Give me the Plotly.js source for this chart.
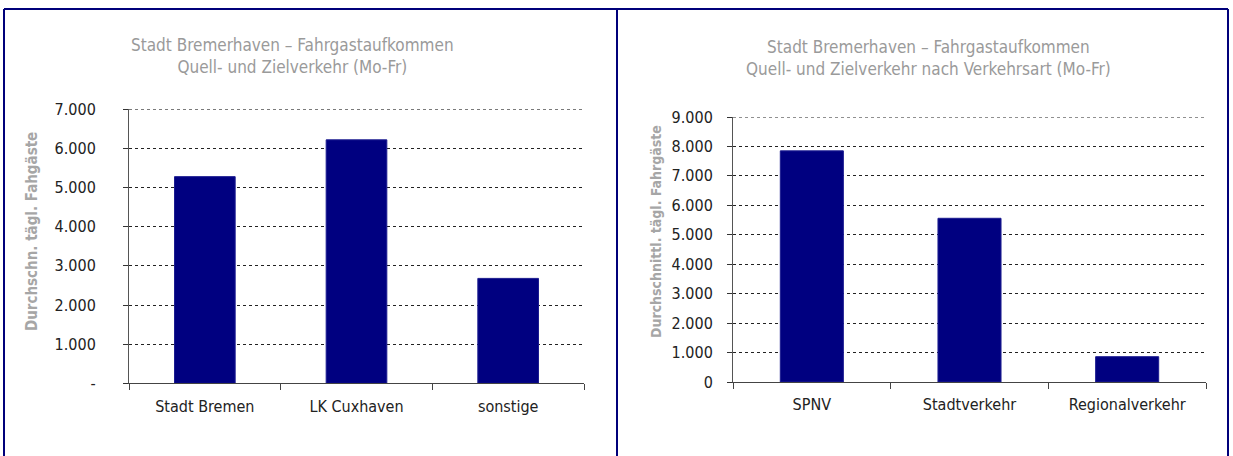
<!DOCTYPE html>
<html>
<head>
<meta charset="utf-8">
<script src="https://cdn.plot.ly/plotly-3.0.1.min.js"></script>
<style>html,body{margin:0;padding:0;background:#fff;}#chart{width:1233px;height:456px;}</style>
</head>
<body>
<div id="chart"></div>
<script>
// Left chart: Quell- und Zielverkehr (Mo-Fr)
const leftCategories = ["Stadt Bremen", "LK Cuxhaven", "sonstige"];
const leftValues = [5280, 6220, 2680];
const leftTickVals = [0, 1000, 2000, 3000, 4000, 5000, 6000, 7000];
const leftTickText = ["-", "1.000", "2.000", "3.000", "4.000", "5.000", "6.000", "7.000"];
const leftTitle = "Stadt Bremerhaven – Fahrgastaufkommen<br>Quell- und Zielverkehr (Mo-Fr)";
const leftYTitle = "Durchschn. tägl. Fahgäste";

// Right chart: nach Verkehrsart (Mo-Fr)
const rightCategories = ["SPNV", "Stadtverkehr", "Regionalverkehr"];
const rightValues = [7850, 5560, 860];
const rightTickVals = [0, 1000, 2000, 3000, 4000, 5000, 6000, 7000, 8000, 9000];
const rightTickText = ["0", "1.000", "2.000", "3.000", "4.000", "5.000", "6.000", "7.000", "8.000", "9.000"];
const rightTitle = "Stadt Bremerhaven – Fahrgastaufkommen<br>Quell- und Zielverkehr nach Verkehrsart (Mo-Fr)";
const rightYTitle = "Durchschnittl. tägl. Fahrgäste";

const W = 1233, H = 456;
const px = x => x / W;
const py = y => 1 - y / H;
const FONT = "DejaVu Sans Condensed, Liberation Sans Narrow, sans-serif";
const BAR = "#000080";
const leftMax = leftTickVals[leftTickVals.length - 1];
const rightMax = rightTickVals[rightTickVals.length - 1];

const traces = [
  {type: "bar", x: leftCategories, y: leftValues, xaxis: "x", yaxis: "y",
   marker: {color: BAR, line: {color: "#1c1c90", width: 1}}, hoverinfo: "x+y"},
  {type: "bar", x: rightCategories, y: rightValues, xaxis: "x2", yaxis: "y2",
   marker: {color: BAR, line: {color: "#1c1c90", width: 1}}, hoverinfo: "x+y"}
];

function xAxis(domain, anchor) {
  return {
    domain: domain, anchor: anchor, type: "category",
    showline: true, linecolor: "#444", linewidth: 1,
    ticks: "outside", tickson: "boundaries", ticklen: 6, tickcolor: "#444",
    showgrid: false, zeroline: false,
    tickfont: {family: FONT, size: 16, color: "#222"},
    ticklabelstandoff: 8, fixedrange: true
  };
}
function yAxis(domain, anchor, range, vals, text, standoff) {
  return {
    domain: domain, anchor: anchor, range: range,
    tickmode: "array", tickvals: vals, ticktext: text,
    showline: true, linecolor: "#555", linewidth: 1,
    ticks: "outside", ticklen: 5, tickcolor: "#333",
    showgrid: true, gridcolor: "#222", griddash: "dot", gridwidth: 1,
    zeroline: false,
    tickfont: {family: FONT, size: 16, color: "#222"},
    ticklabelstandoff: standoff, fixedrange: true
  };
}

const layout = {
  width: W, height: H,
  margin: {l: 0, r: 0, t: 0, b: 0},
  paper_bgcolor: "#fff", plot_bgcolor: "rgba(0,0,0,0)",
  showlegend: false, bargap: 0.6,
  xaxis: xAxis([px(129), px(584)], "y"),
  yaxis: yAxis([py(383.3), py(109.3)], "x", [0, leftMax], leftTickVals, leftTickText, 24),
  xaxis2: xAxis([px(733), px(1206)], "y2"),
  yaxis2: yAxis([py(382), py(117)], "x2", [0, rightMax], rightTickVals, rightTickText, 11),
  annotations: [
    {text: leftTitle, xref: "paper", yref: "paper", x: px(292), y: py(56), showarrow: false,
     xanchor: "center", yanchor: "middle", align: "center",
     font: {family: FONT, size: 17, color: "#9a9a9a"}},
    {text: rightTitle, xref: "paper", yref: "paper", x: px(928), y: py(58), showarrow: false,
     xanchor: "center", yanchor: "middle", align: "center",
     font: {family: FONT, size: 17, color: "#9a9a9a"}},
    {text: "<b>" + leftYTitle + "</b>", xref: "paper", yref: "paper", x: px(32), y: py(232),
     showarrow: false, textangle: -90, xanchor: "center", yanchor: "middle",
     font: {family: FONT, size: 15, color: "#a6a6a6"}},
    {text: "<b>" + rightYTitle + "</b>", xref: "paper", yref: "paper", x: px(656), y: py(232),
     showarrow: false, textangle: -90, xanchor: "center", yanchor: "middle",
     font: {family: FONT, size: 14, color: "#a6a6a6"}}
  ],
  shapes: [
    // top gridlines at the highest tick value (Plotly skips the gridline on the range edge)
    {type: "line", xref: "x domain", yref: "y", x0: 0, x1: 1, y0: leftMax, y1: leftMax,
     line: {color: "#222", width: 1, dash: "dot"}},
    {type: "line", xref: "x2 domain", yref: "y2", x0: 0, x1: 1, y0: rightMax, y1: rightMax,
     line: {color: "#222", width: 1, dash: "dot"}},
    // panel borders
    {type: "line", xref: "paper", yref: "paper", x0: px(4), x1: px(1228), y0: py(9), y1: py(9),
     line: {color: "#00007a", width: 2}},
    {type: "line", xref: "paper", yref: "paper", x0: px(4), x1: px(4), y0: py(9), y1: py(460),
     line: {color: "#00007a", width: 2}},
    {type: "line", xref: "paper", yref: "paper", x0: px(617), x1: px(617), y0: py(9), y1: py(460),
     line: {color: "#00007a", width: 2}},
    {type: "line", xref: "paper", yref: "paper", x0: px(1228), x1: px(1228), y0: py(9), y1: py(460),
     line: {color: "#00007a", width: 2}}
  ]
};

Plotly.newPlot("chart", traces, layout, {displayModeBar: false, staticPlot: true});
</script>
</body>
</html>
